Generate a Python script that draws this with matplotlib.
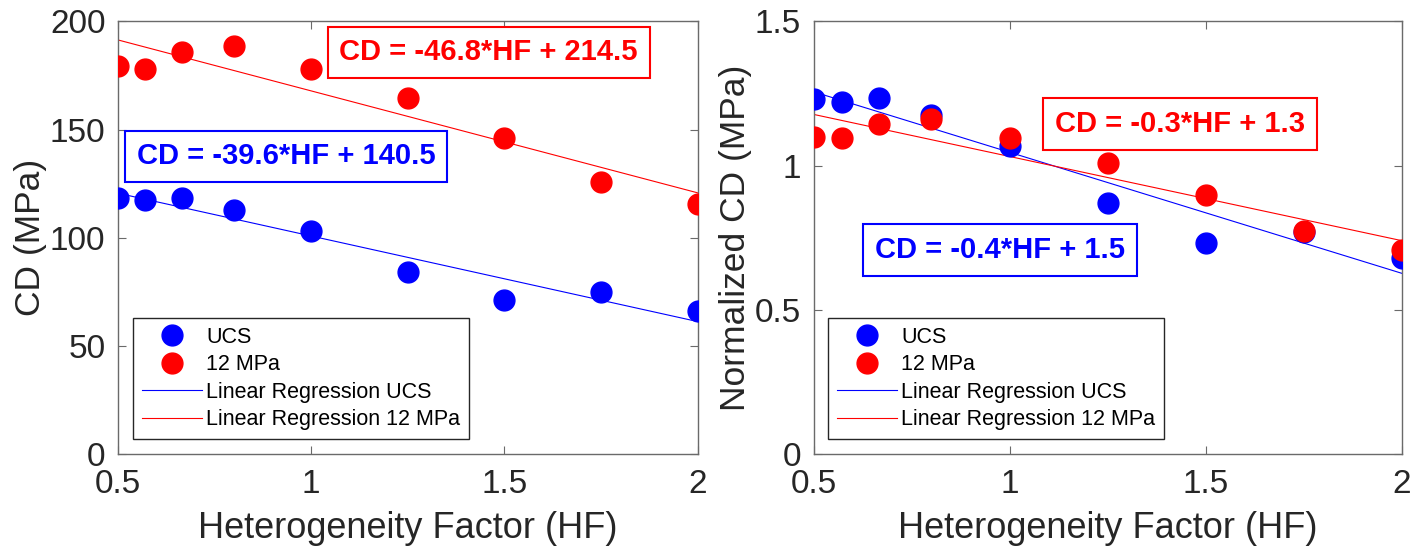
import numpy as np
import matplotlib.pyplot as plt

plt.rcParams['font.family'] = ['Liberation Sans', 'DejaVu Sans']

# heterogeneity factor
hf = [0.5, 0.571, 0.667, 0.8, 1.0, 1.25, 1.5, 1.75, 2.0]

# crack damage stress (MPa)
cd_ucs = [118.3, 117.3, 118.6, 112.7, 103.1, 84.2, 71.1, 74.9, 66.0]
cd_12 = [179.6, 177.9, 185.9, 188.7, 178.2, 164.4, 146.1, 125.9, 115.5]

# normalized crack damage stress
ncd_ucs = [1.231, 1.222, 1.235, 1.175, 1.068, 0.869, 0.732, 0.77, 0.679]
ncd_12 = [1.100, 1.096, 1.144, 1.161, 1.097, 1.009, 0.898, 0.772, 0.706]

eq_left = ['CD = -39.6*HF + 140.5', 'CD = -46.8*HF + 214.5']
eq_right = ['CD = -0.4*HF + 1.5', 'CD = -0.3*HF + 1.3']

fig = plt.figure(figsize=(14.21, 5.54), dpi=100)
ax1 = fig.add_axes([0.0830, 0.1805, 0.408, 0.7807])
ax2 = fig.add_axes([0.5726, 0.1805, 0.4139, 0.7807])

axis_col = '#6a6a6a'
text_col = '#262626'


def draw_panel(ax, y_ucs, y_12, ylim, yticks, ylabel, eqs, eq_pos, leg_x):
    x = np.array(hf)
    ax.plot(hf, y_ucs, 'o', color='#0000ff', markersize=15, label='UCS', zorder=3)
    ax.plot(hf, y_12, 'o', color='#ff0000', markersize=15, label='12 MPa', zorder=3)

    # linear regression lines
    xs = np.array([0.5, 2.0])
    p_ucs = np.polyfit(x, y_ucs, 1)
    p_12 = np.polyfit(x, y_12, 1)
    ax.plot(xs, np.polyval(p_ucs, xs), color='#0000ff', lw=0.8,
            label='Linear Regression UCS', zorder=2)
    ax.plot(xs, np.polyval(p_12, xs), color='#ff0000', lw=0.8,
            label='Linear Regression 12 MPa', zorder=2)

    for eq, pos, c in zip(eqs, eq_pos, ['#0000ff', '#ff0000']):
        ax.text(pos[0], pos[1], eq, color=c, fontsize=21, fontweight='bold',
                ha='center', va='center', zorder=5,
                bbox=dict(boxstyle='square,pad=0.4', fc='white', ec=c, lw=1.5))

    ax.set_xlim(0.5, 2)
    ax.set_ylim(ylim)
    ax.set_xticks([0.5, 1, 1.5, 2])
    ax.set_xticklabels(['0.5', '1', '1.5', '2'])
    ax.set_yticks(yticks)
    ax.set_yticklabels(['%g' % t for t in yticks])
    ax.tick_params(direction='in', top=True, right=True, length=6,
                   width=0.8, color=axis_col, labelsize=24, labelcolor=text_col)
    ax.tick_params(axis='x', pad=11)
    ax.tick_params(axis='y', pad=9)
    for s in ax.spines.values():
        s.set_color(axis_col)
        s.set_linewidth(1.0)
    ax.set_xlabel('Heterogeneity Factor (HF)', fontsize=26, color=text_col, labelpad=8)
    ax.set_ylabel(ylabel, fontsize=25.5, color=text_col, labelpad=2)

    leg = ax.legend(loc='lower left', bbox_to_anchor=(leg_x, 0.035), borderaxespad=0,
                    fontsize=15.5, fancybox=False, framealpha=1, edgecolor=text_col,
                    handlelength=2.8, handletextpad=0.2, labelspacing=0.3,
                    borderpad=0.4)
    leg.get_frame().set_linewidth(1.0)


draw_panel(ax1, cd_ucs, cd_12, (0, 200), [0, 50, 100, 150, 200], 'CD (MPa)',
           eq_left, [(0.935, 137.6), (1.459, 185.7)], 0.026)
draw_panel(ax2, ncd_ucs, ncd_12, (0, 1.5), [0, 0.5, 1, 1.5], 'Normalized CD (MPa)',
           eq_right, [(0.975, 0.708), (1.434, 1.145)], 0.0245)

fig.savefig('out.png', dpi=100)
